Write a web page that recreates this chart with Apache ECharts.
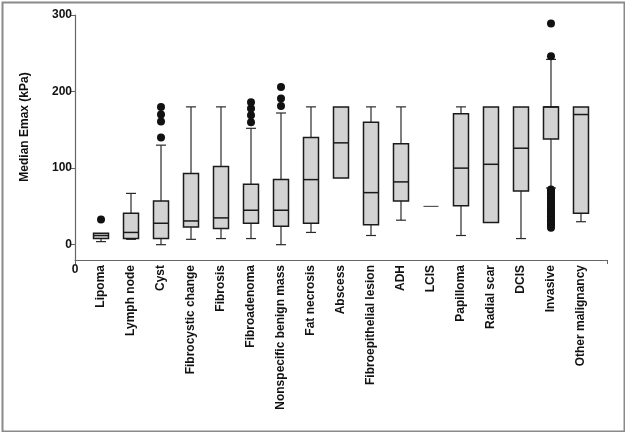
<!DOCTYPE html>
<html>
<head>
<meta charset="utf-8">
<script src="https://cdn.jsdelivr.net/npm/echarts@6/dist/echarts.min.js"></script>
<style>
html,body{margin:0;padding:0;background:#fff;}
#c{width:625px;height:432px;}
</style>
</head>
<body>
<div id="c"></div>
<script>
const categories = ['Lipoma','Lymph node','Cyst','Fibrocystic change','Fibrosis','Fibroadenoma','Nonspecific benign mass','Fat necrosis','Abscess','Fibroepithelial lesion','ADH','LCIS','Papilloma','Radial scar','DCIS','Invasive','Other malignancy'];
const whiskerLow  = [4, 7, 0, 7, 8, 8, 0, 16, 87, 12, 32, 50, 12, 29, 8, 74, 30];
const quartile1   = [8, 8, 8, 23, 21, 28, 24, 28, 87, 26, 57, 50, 51, 29, 70, 138, 41];
const medians     = [12, 16, 28, 31, 35, 45, 45, 85, 133, 68, 82, 50, 100, 105, 126, 180, 170];
const quartile3   = [15, 41, 57, 93, 102, 79, 85, 140, 180, 160, 132, 50, 171, 180, 180, 180, 180];
const whiskerHigh = [15, 67, 130, 180, 180, 152, 172, 180, 180, 180, 180, 50, 180, 180, 180, 242, 180];
const outliers = [
  [0, 33],
  [2, 140], [2, 161], [2, 170], [2, 180],
  [5, 160], [5, 169], [5, 178], [5, 186],
  [6, 181], [6, 191], [6, 206],
  [15, 246], [15, 289],
  [15, 72], [15, 70], [15, 67], [15, 65], [15, 62], [15, 60], [15, 57], [15, 55], [15, 52], [15, 50],
  [15, 47], [15, 45], [15, 42], [15, 40], [15, 37], [15, 35], [15, 32], [15, 30], [15, 27], [15, 25], [15, 22]
];
const yTicks = [0, 100, 200, 300];

const boxData = categories.map((c, i) => [i, whiskerLow[i], quartile1[i], medians[i], quartile3[i], whiskerHigh[i]]);
const xIdx = categories.map((c, i) => i);

const chart = echarts.init(document.getElementById('c'), null, {renderer: 'canvas'});
const font = '"Liberation Sans", Arial, sans-serif';
const xMin = -0.867, xMax = 16.867;

function renderBox(params, api) {
  const x = api.value(0);
  const lo = api.value(1), q1 = api.value(2), md = api.value(3), q3 = api.value(4), hi = api.value(5);
  const pLo = api.coord([x, lo]), pQ1 = api.coord([x, q1]), pMd = api.coord([x, md]), pQ3 = api.coord([x, q3]), pHi = api.coord([x, hi]);
  const cx = pLo[0];
  const hw = 7.5, cw = 5;
  const wStyle = {stroke: '#2a2a2a', lineWidth: 1.2};
  const bStyle = {stroke: '#1a1a1a', lineWidth: 1.5};
  const children = [];
  if (hi > q3) {
    children.push({type: 'line', shape: {x1: cx, y1: pQ3[1], x2: cx, y2: pHi[1]}, style: wStyle});
    children.push({type: 'line', shape: {x1: cx - cw, y1: pHi[1], x2: cx + cw, y2: pHi[1]}, style: wStyle});
  }
  if (lo < q1) {
    children.push({type: 'line', shape: {x1: cx, y1: pQ1[1], x2: cx, y2: pLo[1]}, style: wStyle});
    children.push({type: 'line', shape: {x1: cx - cw, y1: pLo[1], x2: cx + cw, y2: pLo[1]}, style: wStyle});
  }
  if (q3 > q1) {
    children.push({type: 'rect', shape: {x: cx - hw, y: pQ3[1], width: 2 * hw, height: pQ1[1] - pQ3[1]},
      style: {fill: '#d3d3d3', stroke: '#1a1a1a', lineWidth: 1.5}});
  }
  children.push({type: 'line', shape: {x1: cx - hw, y1: pMd[1], x2: cx + hw, y2: pMd[1]},
    style: q3 > q1 ? bStyle : {stroke: '#555', lineWidth: 1.2}});
  return {type: 'group', children: children};
}

chart.setOption({
  backgroundColor: '#fff',
  animation: false,
  grid: {left: 75, right: 18, top: 15, bottom: 172, containLabel: false},
  xAxis: {
    type: 'value', min: xMin, max: xMax,
    axisLine: {show: true, onZero: false, lineStyle: {color: '#666', width: 1.2}},
    axisTick: {show: true, customValues: [xMin, xMax], length: 4, lineStyle: {color: '#666'}},
    splitLine: {show: false},
    axisLabel: {
      customValues: xIdx, rotate: 90, margin: 5,
      formatter: v => categories[Math.round(v)],
      color: '#111', fontWeight: 'bold', fontSize: 12, fontFamily: font
    }
  },
  yAxis: {
    type: 'value', min: -20, max: 300,
    axisLine: {show: true, onZero: false, lineStyle: {color: '#666', width: 1.2}},
    axisTick: {show: true, customValues: yTicks, length: 5, lineStyle: {color: '#666'}},
    splitLine: {show: false},
    axisLabel: {customValues: yTicks, margin: 3, color: '#111', fontWeight: 'bold', fontSize: 12, fontFamily: font}
  },
  graphic: [
    {type: 'rect', left: 0, top: 0, shape: {x: 1, y: 1, width: 622, height: 429}, style: {fill: 'none', stroke: '#8a8a8a', lineWidth: 2}, z: 100},
    {type: 'text', x: 25, y: 127, rotation: Math.PI / 2,
      style: {text: 'Median Emax (kPa)', fill: '#111', font: 'bold 12px "Liberation Sans", Arial, sans-serif', align: 'center', verticalAlign: 'middle'}},
    {type: 'text', x: 75, y: 270,
      style: {text: '0', fill: '#111', font: 'bold 12px "Liberation Sans", Arial, sans-serif', align: 'center', verticalAlign: 'middle'}}
  ],
  series: [
    {type: 'custom', renderItem: renderBox, data: boxData, encode: {x: 0, y: [1, 2, 3, 4, 5]}, clip: false, z: 2},
    {type: 'scatter', data: outliers, symbol: 'circle', symbolSize: 8, itemStyle: {color: '#111', opacity: 1}, z: 3}
  ]
});
</script>
</body>
</html>
